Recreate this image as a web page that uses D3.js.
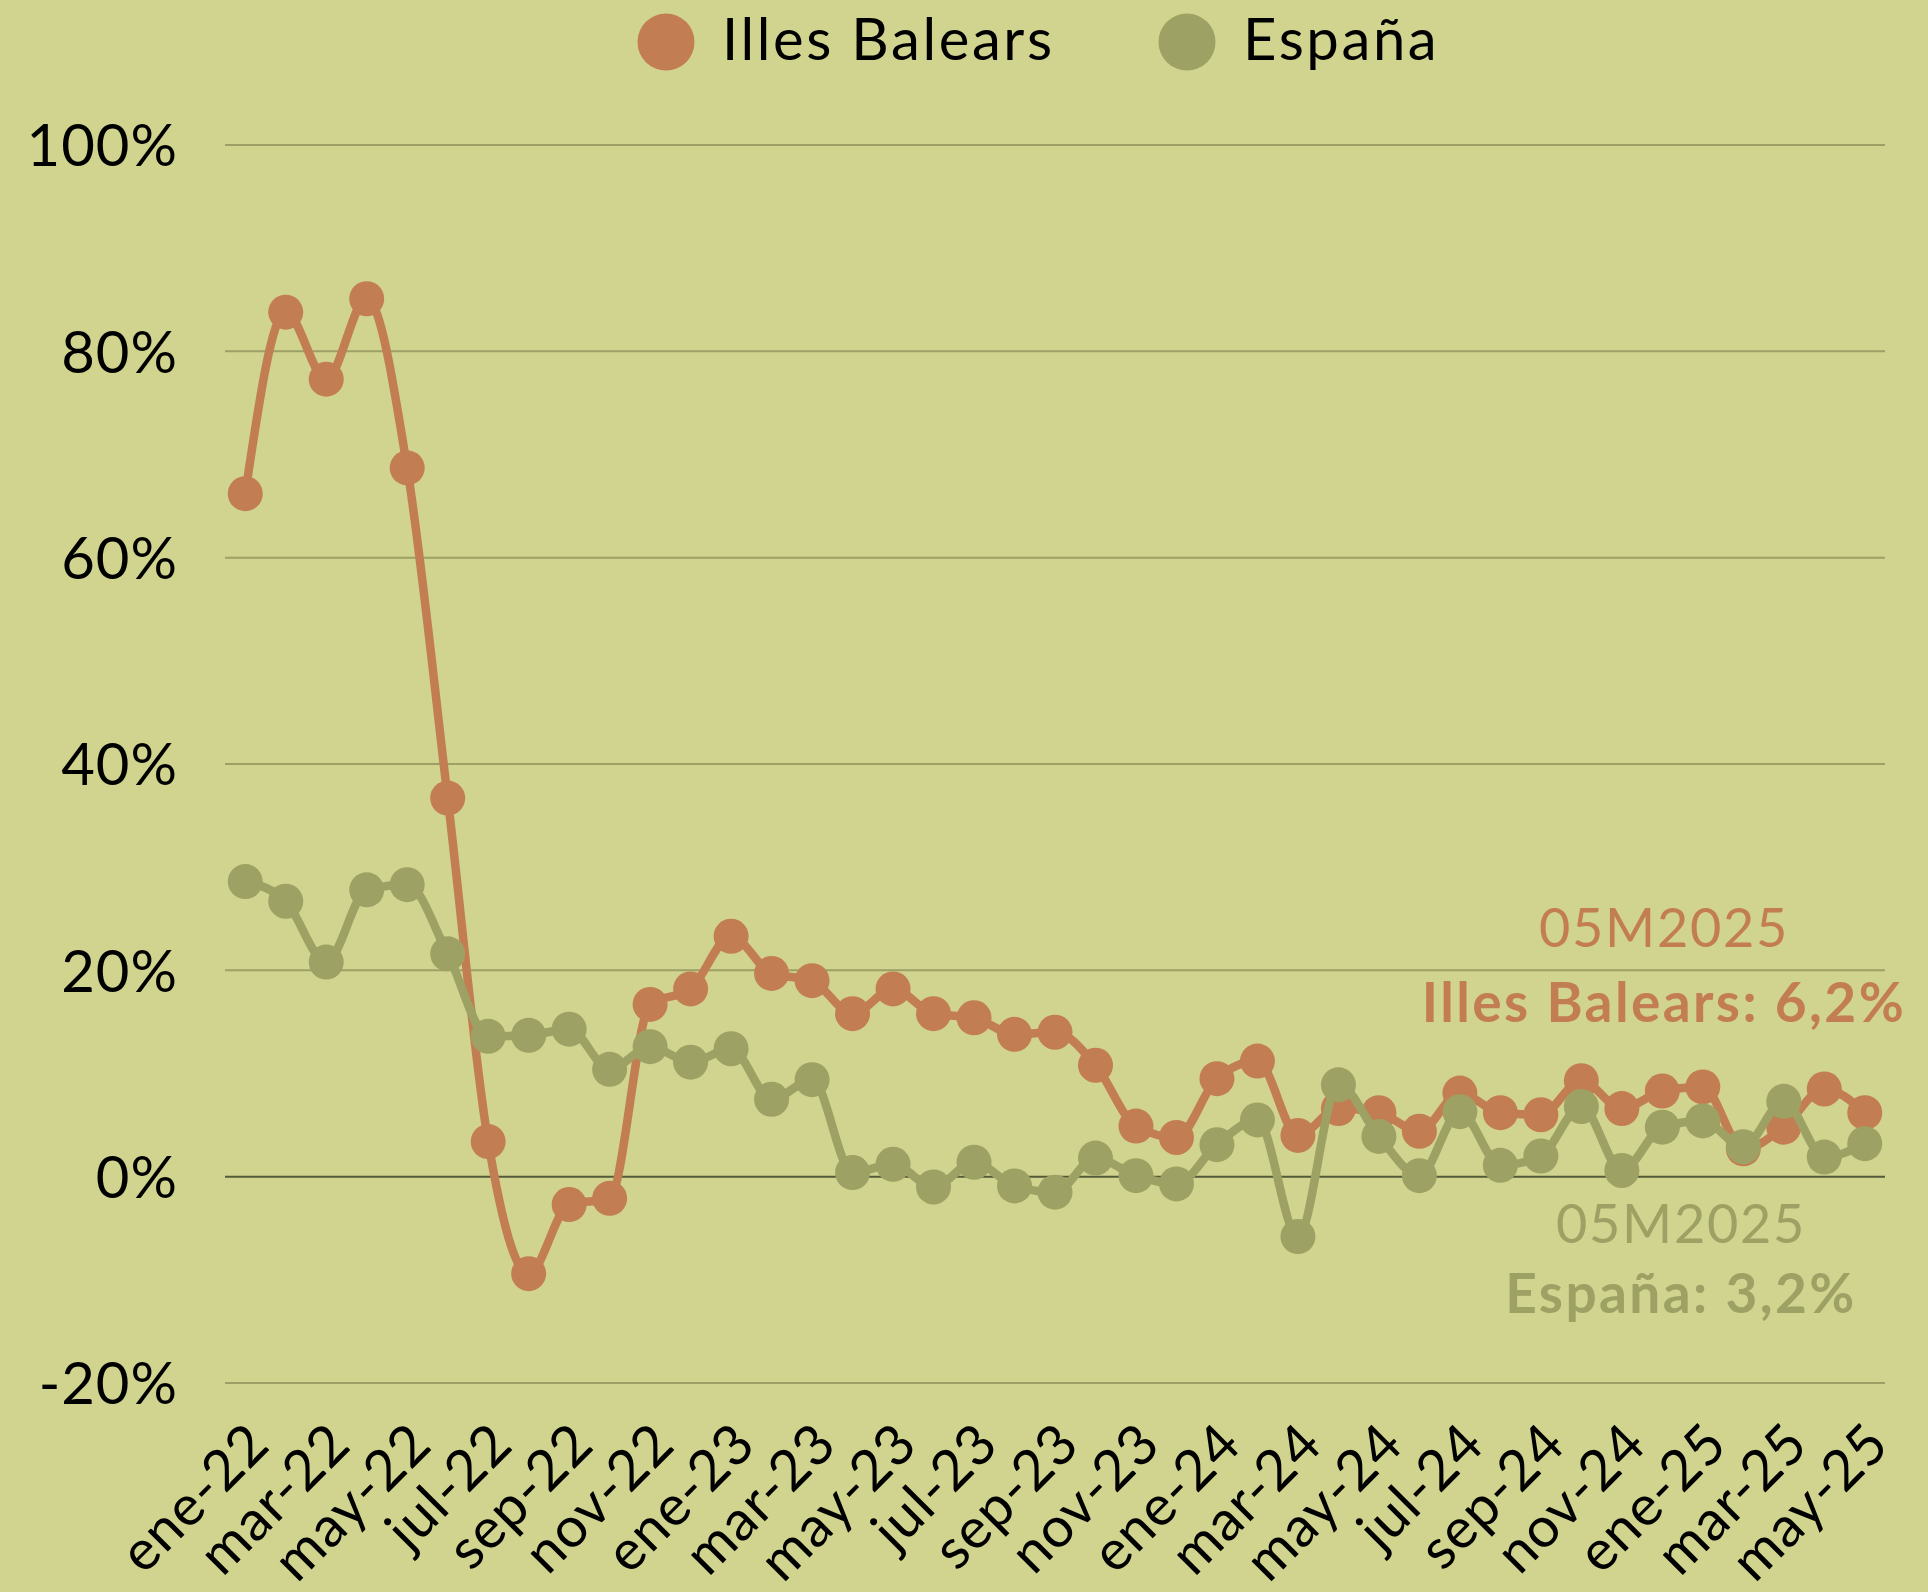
<!DOCTYPE html>
<html>
<head>
<meta charset="utf-8">
<script src="https://cdn.jsdelivr.net/npm/d3@7"></script>
<style>
  body { margin: 0; background: #d1d48e; }
  svg { display: block; font-family: Lato, "Noto Sans", sans-serif; }
</style>
</head>
<body>
<svg></svg>
<script>
let months = [
  "ene-22", "feb-22", "mar-22", "abr-22", "may-22", "jun-22", "jul-22", "ago-22", "sep-22", "oct-22", "nov-22", "dic-22",
  "ene-23", "feb-23", "mar-23", "abr-23", "may-23", "jun-23", "jul-23", "ago-23", "sep-23", "oct-23", "nov-23", "dic-23",
  "ene-24", "feb-24", "mar-24", "abr-24", "may-24", "jun-24", "jul-24", "ago-24", "sep-24", "oct-24", "nov-24", "dic-24",
  "ene-25", "feb-25", "mar-25", "abr-25", "may-25",
];

let baleares = [
  66.2, 83.8, 77.3, 85.1, 68.7, 36.7, 3.4, -9.4, -2.7, -2.1, 16.7, 18.2,
  23.3, 19.7, 19.0, 15.8, 18.2, 15.8, 15.4, 13.8, 14.0, 10.8, 4.9, 3.8,
  9.5, 11.2, 4.0, 6.6, 6.2, 4.4, 8.1, 6.2, 6.0, 9.3, 6.6, 8.3,
  8.7, 2.7, 4.8, 8.5, 6.2,
];

let espana = [
  28.6, 26.7, 20.8, 27.8, 28.3, 21.6, 13.6, 13.7, 14.3, 10.4, 12.6, 11.1,
  12.4, 7.5, 9.4, 0.4, 1.2, -1.0, 1.4, -0.9, -1.5, 1.8, 0.1, -0.7,
  3.1, 5.5, -5.8, 8.9, 3.9, 0.1, 6.3, 1.1, 2.0, 6.8, 0.6, 4.8,
  5.4, 2.9, 7.3, 1.9, 3.2,
];

let yTicks = [-20, 0, 20, 40, 60, 80, 100];
// one label every two months
let xTicks = months.filter((m, i) => i % 2 == 0);

let series = [
  { name: "Illes Balears", values: baleares, color: "#c37d53" },
  { name: "España", values: espana, color: "#9da163" },
];

let width = 1928;
let height = 1592;

let svg = d3.select("svg").attr("width", width).attr("height", height);

svg.append("rect").attr("width", width).attr("height", height).attr("fill", "#d1d48e");

let x = d3.scaleBand().domain(months).range([225, 1885]);
let y = d3.scaleLinear().domain([-20, 100]).range([1383, 145]);
let cx = (m) => x(m) + x.bandwidth() / 2;

// grid
svg
  .append("g")
  .selectAll("line")
  .data(yTicks)
  .join("line")
  .attr("x1", 225)
  .attr("x2", 1885)
  .attr("y1", (d) => y(d))
  .attr("y2", (d) => y(d))
  .style("stroke", (d) => (d == 0 ? "#545a38" : "#9ca067"))
  .style("stroke-width", 2);

// y axis labels
let yAxis = svg
  .append("g")
  .attr("transform", "translate(178,0)")
  .call(d3.axisLeft(y).tickValues(yTicks).tickSize(0).tickPadding(0).tickFormat((d) => d + "%"));
yAxis.select(".domain").remove();
yAxis
  .selectAll("text")
  .attr("dy", "0.36em")
  .style("font-size", "58px")
  .style("letter-spacing", "1px")
  .style("font-family", "Lato, sans-serif")
  .style("fill", "#000");

// x axis labels, rotated
svg
  .append("g")
  .selectAll("text")
  .data(xTicks)
  .join("text")
  .attr("transform", (d) => `translate(${cx(d) + 27},1447) rotate(-45)`)
  .attr("text-anchor", "end")
  .style("font-size", "56px")
  .style("letter-spacing", "1px")
  .style("fill", "#000")
  .text((d) => d);

let line = d3
  .line()
  .x((d, i) => cx(months[i]))
  .y((d) => y(d))
  .curve(d3.curveMonotoneX);

for (let s of series) {
  let g = svg.append("g");
  g.append("path")
    .attr("d", line(s.values))
    .style("fill", "none")
    .style("stroke", s.color)
    .style("stroke-width", 8.5)
    .style("stroke-linejoin", "round");

  g.selectAll("circle")
    .data(s.values)
    .join("circle")
    .attr("cx", (d, i) => cx(months[i]))
    .attr("cy", (d) => y(d))
    .attr("r", 17.5)
    .style("fill", s.color);
}

// legend
let legend = [
  { text: "Illes Balears", color: "#c37d53", x: 666 },
  { text: "España", color: "#9da163", x: 1187 },
];
for (let l of legend) {
  svg.append("circle").attr("cx", l.x).attr("cy", 42).attr("r", 28.5).attr("fill", l.color);
  svg
    .append("text")
    .attr("x", l.x + 56)
    .attr("y", 60)
    .style("font-size", "58px")
    .style("letter-spacing", "2.6px")
    .style("fill", "#000")
    .text(l.text);
}

// end labels
let fmt = (v) => d3.format(".1f")(v).replace(".", ",") + "%";
let last = months.length - 1;
let notes = [
  { s: series[0], x: 1664, y1: 947, y2: 1022 },
  { s: series[1], x: 1681, y1: 1243, y2: 1313 },
];
for (let n of notes) {
  svg
    .append("text")
    .attr("x", n.x)
    .attr("y", n.y1)
    .attr("text-anchor", "middle")
    .style("font-size", "54px")
    .style("font-weight", 400)
    .style("letter-spacing", "1.7px")
    .style("fill", n.s.color)
    .text("05M2025");
  svg
    .append("text")
    .attr("x", n.x)
    .attr("y", n.y2)
    .attr("text-anchor", "middle")
    .style("font-size", "55px")
    .style("font-weight", 700)
    .style("letter-spacing", "2.4px")
    .style("fill", n.s.color)
    .text(`${n.s.name}: ${fmt(n.s.values[last])}`);
}
</script>
</body>
</html>
